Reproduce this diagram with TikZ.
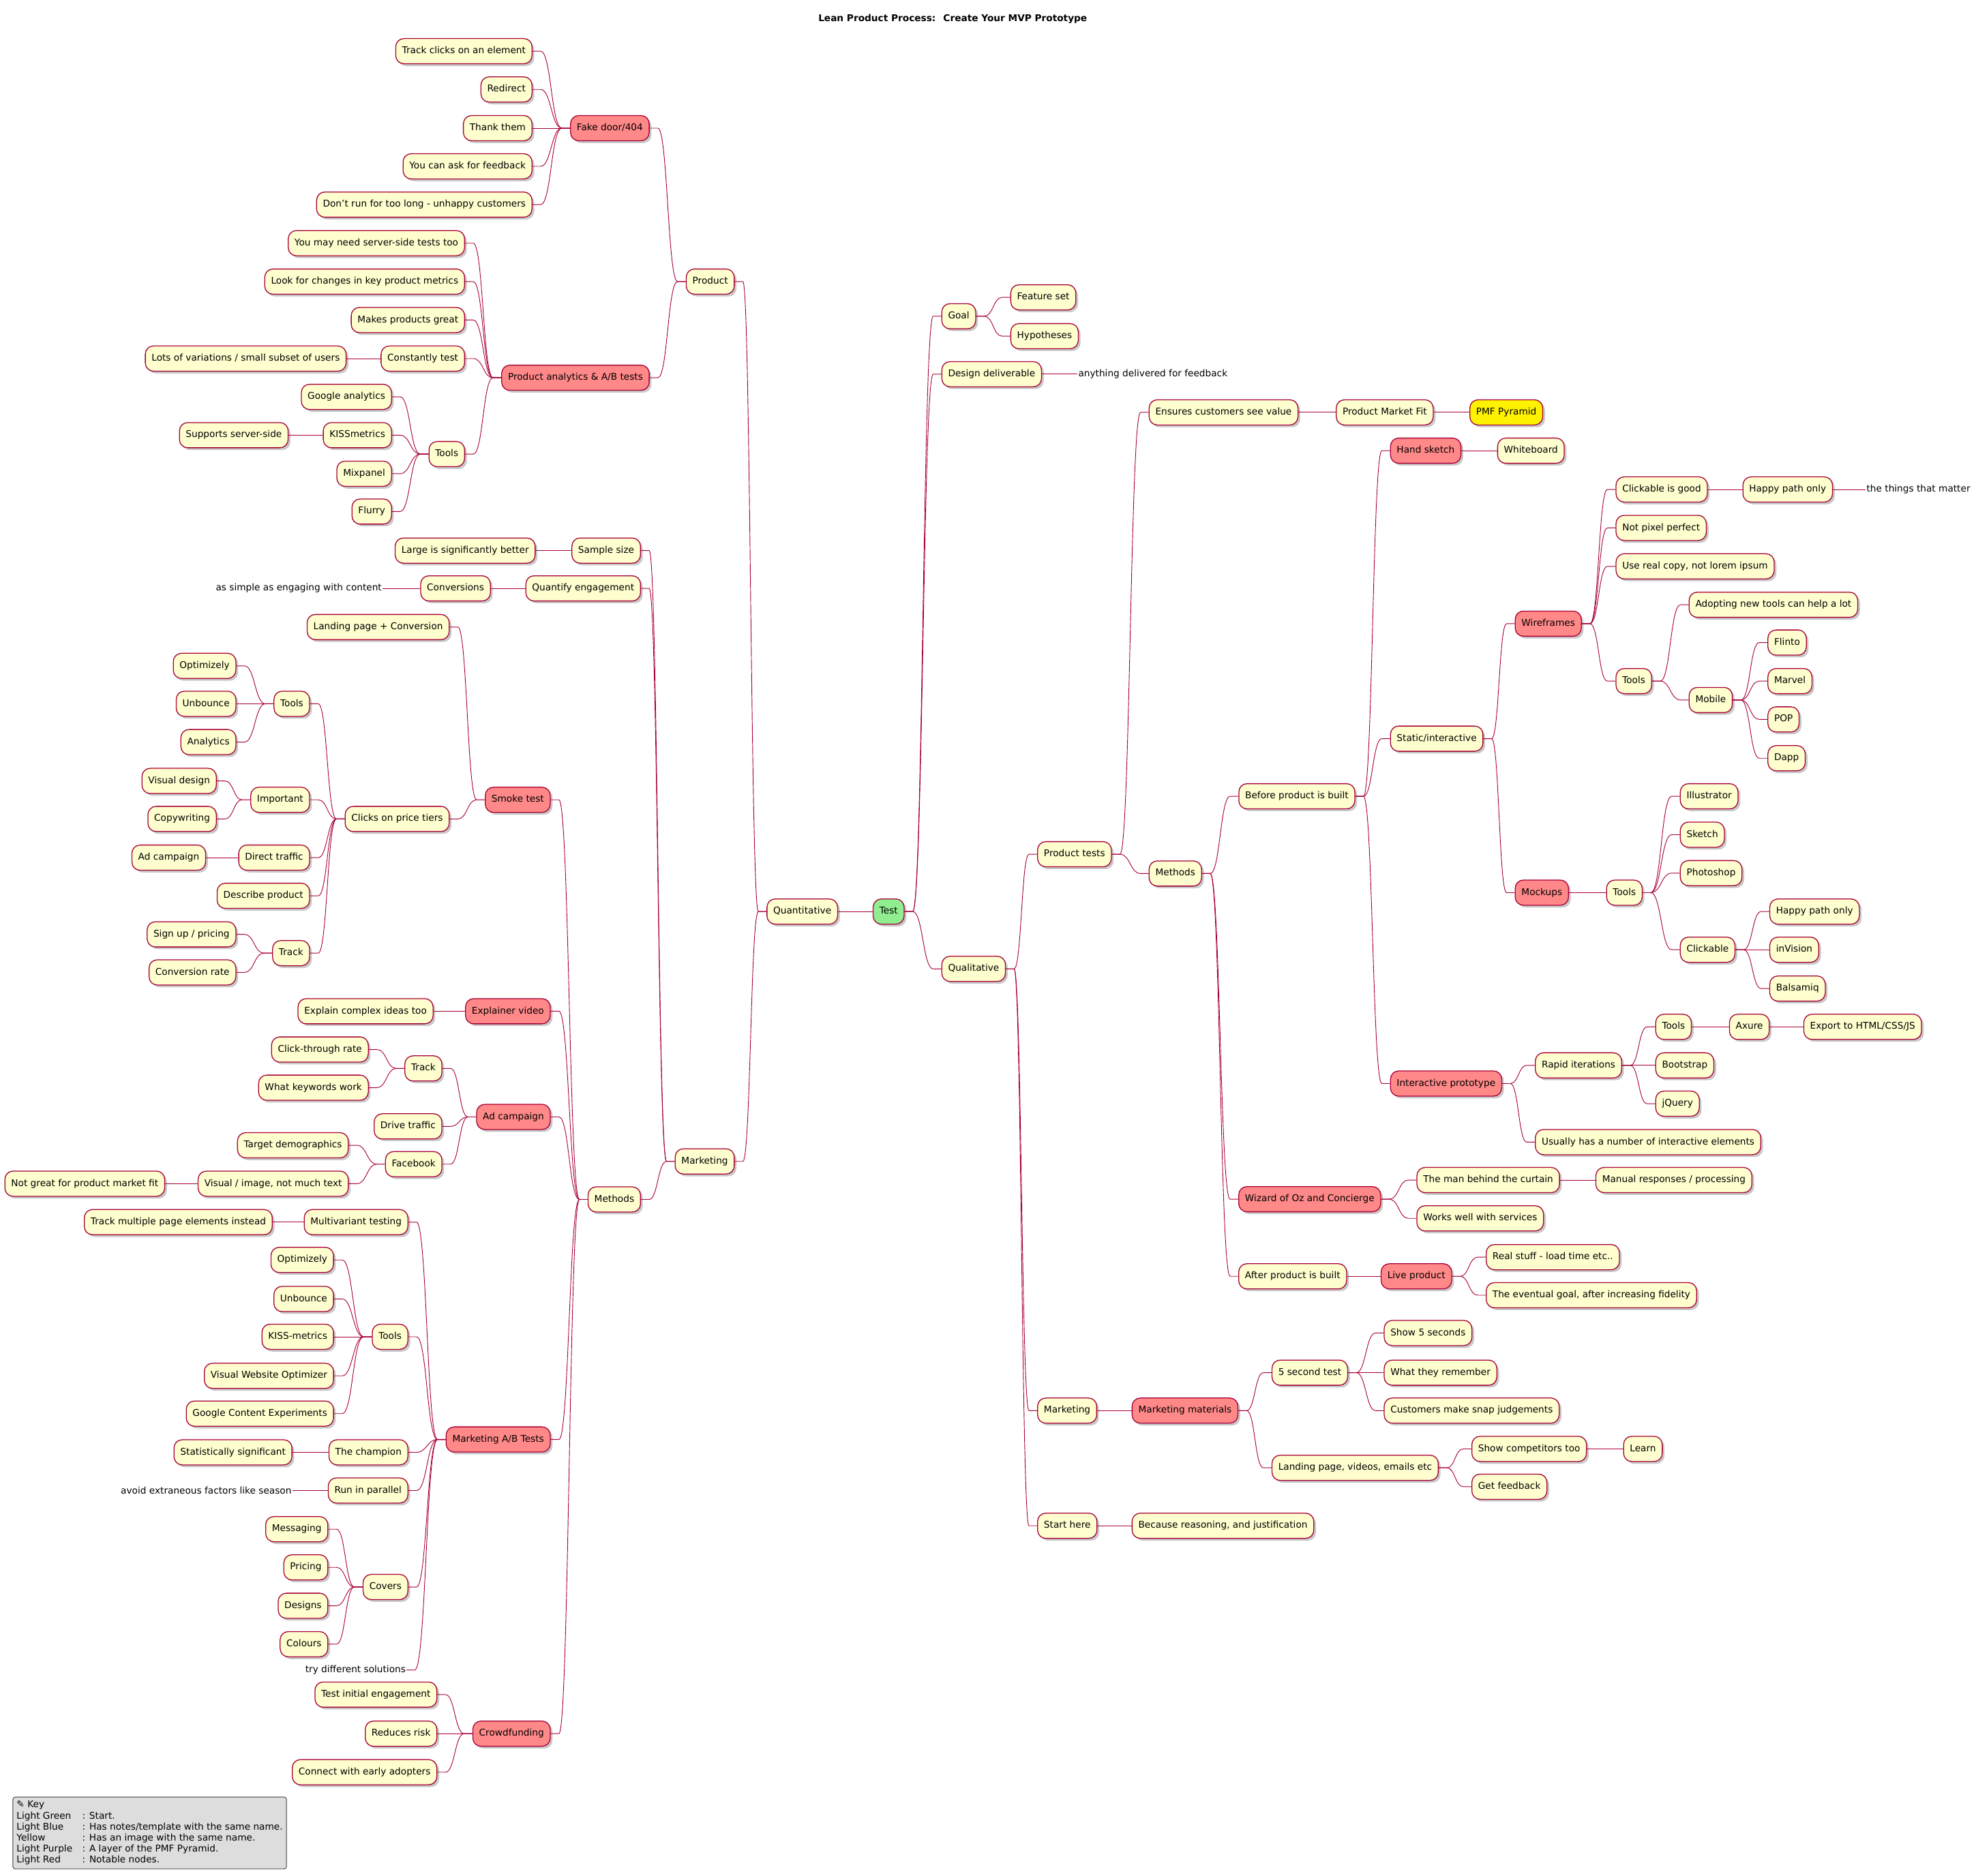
\documentclass[tikz,border=0pt]{standalone}
\usepackage{fontspec}
\setmainfont{DejaVu Sans}
\usetikzlibrary{calc,shadows}
\definecolor{edgered}{HTML}{A80036}
\definecolor{nodefill}{HTML}{FEFECE}
\definecolor{hotred}{HTML}{FF8888}
\definecolor{startgreen}{HTML}{90EE90}
\definecolor{keygrey}{HTML}{DDDDDD}

\begin{document}
\begin{tikzpicture}[x=1pt, y=-1pt, font=\fontsize{7.4}{8.7}\selectfont,
  box/.style={draw=edgered, line width=.7pt, fill=nodefill, rounded corners=6.5pt, minimum height=20pt, inner xsep=5pt, inner ysep=0pt, text height=5.5pt, text depth=1.6pt, drop shadow={shadow xshift=1.8pt, shadow yshift=-1.8pt, opacity=.3, fill=black!70}},
  right node/.style={box, anchor=west}, left node/.style={box, anchor=east},
  right hot/.style={right node, fill=hotred}, left hot/.style={left node, fill=hotred},
  right note/.style={anchor=west, inner xsep=.5pt}, left note/.style={anchor=east, inner xsep=.5pt},
  twig/.style={to path={-- ++(#1,0) .. controls ($(\tikztostart)!.5!(\tikztotarget |- \tikztostart)$) and ($(\tikztotarget)!.5!(\tikztostart |- \tikztotarget)$) .. ($(\tikztotarget)-(#1,0)$) -- (\tikztotarget) \tikztonodes}},
  every edge/.style={draw=edgered, line width=.5pt, twig=6.5pt}]

  \fill[white] (0,0) rectangle (1568,1489);
  \useasboundingbox (0,0) rectangle (1568,1489);

  \node[font=\fontsize{7.4}{8.7}\selectfont\bfseries] (title) at (756,15) {Lean Product Process:~ Create Your MVP Prototype};

  \node[right node, fill=startgreen] (test) at (692.5,723.5) {Test};

  % right half
  \node[right node] (goal) at (747,251) {Goal};
  \node[right node] (feat) at (801.7,236) {Feature set};
  \node[right node] (hyp) at (801.7,266.8) {Hypotheses};
  \node[right node] (deliv) at (747,297) {Design deliverable};
  \node[right note] (anything) at (855,297) {anything delivered for feedback};
  \node[right node] (qual) at (747,769) {Qualitative};
  \node[right node] (ptests) at (823,678) {Product tests};
  \node[right node] (value) at (911.5,327.3) {Ensures customers see value};
  \node[right node] (pmf) at (1060,327.3) {Product Market Fit};
  \node[right node, fill=yellow] (pyramid) at (1166,327.3) {PMF Pyramid};
  \node[right node] (pmeth) at (911.5,693.3) {Methods};
  \node[right node] (before) at (982.7,632) {Before product is built};
  \node[right hot] (hand) at (1103,357.7) {Hand sketch};
  \node[right node] (board) at (1188,357.7) {Whiteboard};
  \node[right node] (static) at (1103,586.3) {Static/interactive};
  \node[right hot] (wire) at (1202,495) {Wireframes};
  \node[right node] (clickgood) at (1282,388.5) {Clickable is good};
  \node[right node] (happy) at (1382.7,388.5) {Happy path only};
  \node[right note] (matter) at (1480.5,388.5) {the things that matter};
  \node[right node] (pixel) at (1282,419) {Not pixel perfect};
  \node[right node] (realcopy) at (1282,449.5) {Use real copy, not lorem ipsum};
  \node[right node] (wtools) at (1282,540.6) {Tools};
  \node[right node] (adopt) at (1340,480) {Adopting new tools can help a lot};
  \node[right node] (mobile) at (1340,555.6) {Mobile};
  \node[right node] (flinto) at (1402.5,510) {Flinto};
  \node[right node] (marvel) at (1402.5,540.6) {Marvel};
  \node[right node] (pop) at (1402.5,571) {POP};
  \node[right node] (dapp) at (1402.5,601.8) {Dapp};
  \node[right hot] (mock) at (1202,708.5) {Mockups};
  \node[right node] (mtools) at (1274.5,708.5) {Tools};
  \node[right node] (illus) at (1333,632) {Illustrator};
  \node[right node] (sketch) at (1333,662.5) {Sketch};
  \node[right node] (psd) at (1333,693) {Photoshop};
  \node[right node] (clickable) at (1333,753.8) {Clickable};
  \node[right node] (happy2) at (1404,723.5) {Happy path only};
  \node[right node] (invision) at (1404,753.8) {inVision};
  \node[right node] (balsamiq) at (1404,784.6) {Balsamiq};
  \node[right hot] (interact) at (1103,860) {Interactive prototype};
  \node[right node] (rapid) at (1218,845.6) {Rapid iterations};
  \node[right node] (itools) at (1313.5,815) {Tools};
  \node[right node] (axure) at (1372,815) {Axure};
  \node[right node] (export) at (1431,815) {Export to HTML/CSS/JS};
  \node[right node] (bootstrap) at (1313.5,845.6) {Bootstrap};
  \node[right node] (jquery) at (1313.5,876) {jQuery};
  \node[right node] (usually) at (1218,906.5) {Usually has a number of interactive elements};
  \node[right hot] (wizard) at (982.6,951.8) {Wizard of Oz and Concierge};
  \node[right node] (curtain) at (1124,936.6) {The man behind the curtain};
  \node[right node] (manual) at (1266,936.6) {Manual responses / processing};
  \node[right node] (services) at (1124,967) {Works well with services};
  \node[right node] (after) at (982.6,1013) {After product is built};
  \node[right hot] (live) at (1095.6,1013) {Live product};
  \node[right node] (realstuff) at (1179,997.8) {Real stuff - load time etc..};
  \node[right node] (eventual) at (1179,1028) {The eventual goal, after increasing fidelity};
  \node[right node] (qmkt) at (823,1119.6) {Marketing};
  \node[right hot] (materials) at (898,1119.6) {Marketing materials};
  \node[right node] (five) at (1009,1089.5) {5 second test};
  \node[right node] (show5) at (1098,1058) {Show 5 seconds};
  \node[right node] (remember) at (1098,1089.5) {What they remember};
  \node[right node] (snap) at (1098,1119.6) {Customers make snap judgements};
  \node[right node] (landing) at (1009,1165) {Landing page, videos, emails etc};
  \node[right node] (competitors) at (1167.6,1150) {Show competitors too};
  \node[right node] (learn) at (1288,1150) {Learn};
  \node[right node] (feedback) at (1167.6,1180) {Get feedback};
  \node[right node] (start) at (823,1211) {Start here};
  \node[right node] (reason) at (898,1211) {Because reasoning, and justification};

  % left half
  \node[left node] (quant) at (665,723.5) {Quantitative};
  \node[left node] (product) at (583,223.5) {Product};
  \node[left hot] (fake) at (515.5,101.7) {Fake door/404};
  \node[left node] (clicks) at (422.5,40.6) {Track clicks on an element};
  \node[left node] (redirect) at (422.5,71) {Redirect};
  \node[left node] (thank) at (422.5,101.7) {Thank them};
  \node[left node] (askfb) at (422.5,132) {You can ask for feedback};
  \node[left node] (dontrun) at (422.5,162.4) {Don't run for too long - unhappy customers};
  \node[left hot] (analytics) at (515.5,299.8) {Product analytics \& A/B tests};
  \node[left node] (server) at (369,193) {You may need server-side tests too};
  \node[left node] (metrics) at (369,223.5) {Look for changes in key product metrics};
  \node[left node] (great) at (369,254) {Makes products great};
  \node[left node] (constant) at (369,284.6) {Constantly test};
  \node[left node] (variations) at (275,284.6) {Lots of variations / small subset of users};
  \node[left node] (ptools) at (369,360.4) {Tools};
  \node[left node] (google) at (311,315) {Google analytics};
  \node[left node] (kiss) at (311,345.4) {KISSmetrics};
  \node[left node] (supports) at (229,345.4) {Supports server-side};
  \node[left node] (mixpanel) at (311,376) {Mixpanel};
  \node[left node] (flurry) at (311,406) {Flurry};
  \node[left node] (mkt) at (583,921.8) {Marketing};
  \node[left node] (sample) at (508.6,437) {Sample size};
  \node[left node] (large) at (425,437) {Large is significantly better};
  \node[left node] (quantify) at (508.6,467) {Quantify engagement};
  \node[left node] (conv) at (389.5,467) {Conversions};
  \node[left note] (simple) at (303.6,467) {as simple as engaging with content};
  \node[left node] (mmeth) at (508.6,952) {Methods};
  \node[left hot] (smoke) at (437,634.8) {Smoke test};
  \node[left node] (landconv) at (356.8,497.7) {Landing page + Conversion};
  \node[left node] (tiers) at (356.8,650) {Clicks on price tiers};
  \node[left node] (stools) at (246,558.6) {Tools};
  \node[left node] (opt1) at (187.5,528.5) {Optimizely};
  \node[left node] (unb1) at (187.5,558.6) {Unbounce};
  \node[left node] (anal) at (187.5,589) {Analytics};
  \node[left node] (important) at (246,634.8) {Important};
  \node[left node] (visual) at (172,619.8) {Visual design};
  \node[left node] (copy) at (172,650) {Copywriting};
  \node[left node] (direct) at (246,680.7) {Direct traffic};
  \node[left node] (adc1) at (163.5,680.7) {Ad campaign};
  \node[left node] (describe) at (246,711) {Describe product};
  \node[left node] (strack) at (246,756.5) {Track};
  \node[left node] (signup) at (187.5,741.6) {Sign up / pricing};
  \node[left node] (convrate) at (187.5,771.8) {Conversion rate};
  \node[left hot] (explainer) at (437,802.6) {Explainer video};
  \node[left node] (explain) at (344,802.6) {Explain complex ideas too};
  \node[left hot] (adcamp) at (437,886.5) {Ad campaign};
  \node[left node] (atrack) at (351,848) {Track};
  \node[left node] (ctr) at (292.6,833) {Click-through rate};
  \node[left node] (keywords) at (292.6,863.3) {What keywords work};
  \node[left node] (drive) at (351,894) {Drive traffic};
  \node[left node] (facebook) at (351,924) {Facebook};
  \node[left node] (target) at (276.7,909) {Target demographics};
  \node[left node] (visimg) at (276.7,939.5) {Visual / image, not much text};
  \node[left node] (notgreat) at (131,939.5) {Not great for product market fit};
  \node[left hot] (abtests) at (437,1142.5) {Marketing A/B Tests};
  \node[left node] (multi) at (324,970) {Multivariant testing};
  \node[left node] (multiple) at (216.4,970) {Track multiple page elements instead};
  \node[left node] (abtools) at (324,1061) {Tools};
  \node[left node] (opt2) at (265,1000) {Optimizely};
  \node[left node] (unb2) at (265,1031) {Unbounce};
  \node[left node] (kissm) at (265,1061) {KISS-metrics};
  \node[left node] (vwo) at (265,1092) {Visual Website Optimizer};
  \node[left node] (gce) at (265,1122) {Google Content Experiments};
  \node[left node] (champion) at (324,1152.7) {The champion};
  \node[left node] (signif) at (232,1152.7) {Statistically significant};
  \node[left node] (parallel) at (324,1183) {Run in parallel};
  \node[left note] (season) at (232,1183) {avoid extraneous factors like season};
  \node[left node] (covers) at (324,1259.6) {Covers};
  \node[left node] (messaging) at (260.5,1213.7) {Messaging};
  \node[left node] (pricing) at (260.5,1244) {Pricing};
  \node[left node] (designs) at (260.5,1274.5) {Designs};
  \node[left node] (colours) at (260.5,1305) {Colours};
  \node[left note] (solutions) at (322.6,1325.5) {try different solutions};
  \node[left hot] (crowd) at (437,1376) {Crowdfunding};
  \node[left node] (initial) at (347,1345) {Test initial engagement};
  \node[left node] (risk) at (347,1376) {Reduces risk};
  \node[left node] (adopters) at (347,1406.6) {Connect with early adopters};

  \node[draw=black!75, line width=.5pt, fill=keygrey, rounded corners=2pt, anchor=north west, inner xsep=3pt, inner ysep=2.5pt] (key) at (10,1426)
    {\begin{tabular}{@{}p{52pt}@{}l@{}}
      \multicolumn{2}{@{}l@{}}{✎ Key}\\
      Light Green & : Start.\\
      Light Blue & : Has notes/template with the same name.\\
      Yellow & : Has an image with the same name.\\
      Light Purple & : A layer of the PMF Pyramid.\\
      Light Red & : Notable nodes.
    \end{tabular}};

  \path (test.east) edge (goal.west) edge (deliv.west) edge (qual.west)
    (goal.east) edge (feat.west) edge (hyp.west)
    (deliv.east) edge (anything.west)
    (qual.east) edge (ptests.west) edge (qmkt.west) edge (start.west)
    (ptests.east) edge (value.west) edge (pmeth.west)
    (value.east) edge (pmf.west)
    (pmf.east) edge (pyramid.west)
    (pmeth.east) edge (before.west) edge (wizard.west) edge (after.west)
    (before.east) edge (hand.west) edge (static.west) edge (interact.west)
    (hand.east) edge (board.west)
    (static.east) edge (wire.west) edge (mock.west)
    (wire.east) edge (clickgood.west) edge (pixel.west) edge (realcopy.west) edge (wtools.west)
    (clickgood.east) edge (happy.west)
    (happy.east) edge (matter.west)
    (wtools.east) edge (adopt.west) edge (mobile.west)
    (mobile.east) edge (flinto.west) edge (marvel.west) edge (pop.west) edge (dapp.west)
    (mock.east) edge (mtools.west)
    (mtools.east) edge (illus.west) edge (sketch.west) edge (psd.west) edge (clickable.west)
    (clickable.east) edge (happy2.west) edge (invision.west) edge (balsamiq.west)
    (interact.east) edge (rapid.west) edge (usually.west)
    (rapid.east) edge (itools.west) edge (bootstrap.west) edge (jquery.west)
    (itools.east) edge (axure.west)
    (axure.east) edge (export.west)
    (wizard.east) edge (curtain.west) edge (services.west)
    (curtain.east) edge (manual.west)
    (after.east) edge (live.west)
    (live.east) edge (realstuff.west) edge (eventual.west)
    (qmkt.east) edge (materials.west)
    (materials.east) edge (five.west) edge (landing.west)
    (five.east) edge (show5.west) edge (remember.west) edge (snap.west)
    (landing.east) edge (competitors.west) edge (feedback.west)
    (competitors.east) edge (learn.west)
    (start.east) edge (reason.west);

  \begin{scope}[every edge/.append style={twig=-6.5pt}]
  \path (test.west) edge (quant.east)
    (quant.west) edge (product.east) edge (mkt.east)
    (product.west) edge (fake.east) edge (analytics.east)
    (fake.west) edge (clicks.east) edge (redirect.east) edge (thank.east) edge (askfb.east) edge (dontrun.east)
    (analytics.west) edge (server.east) edge (metrics.east) edge (great.east) edge (constant.east) edge (ptools.east)
    (constant.west) edge (variations.east)
    (ptools.west) edge (google.east) edge (kiss.east) edge (mixpanel.east) edge (flurry.east)
    (kiss.west) edge (supports.east)
    (mkt.west) edge (sample.east) edge (quantify.east) edge (mmeth.east)
    (sample.west) edge (large.east)
    (quantify.west) edge (conv.east)
    (conv.west) edge (simple.east)
    (mmeth.west) edge (smoke.east) edge (explainer.east) edge (adcamp.east) edge (abtests.east) edge (crowd.east)
    (smoke.west) edge (landconv.east) edge (tiers.east)
    (tiers.west) edge (stools.east) edge (important.east) edge (direct.east) edge (describe.east) edge (strack.east)
    (stools.west) edge (opt1.east) edge (unb1.east) edge (anal.east)
    (important.west) edge (visual.east) edge (copy.east)
    (direct.west) edge (adc1.east)
    (strack.west) edge (signup.east) edge (convrate.east)
    (explainer.west) edge (explain.east)
    (adcamp.west) edge (atrack.east) edge (drive.east) edge (facebook.east)
    (atrack.west) edge (ctr.east) edge (keywords.east)
    (facebook.west) edge (target.east) edge (visimg.east)
    (visimg.west) edge (notgreat.east)
    (abtests.west) edge (multi.east) edge (abtools.east) edge (champion.east) edge (parallel.east) edge (covers.east) edge (solutions.east)
    (multi.west) edge (multiple.east)
    (abtools.west) edge (opt2.east) edge (unb2.east) edge (kissm.east) edge (vwo.east) edge (gce.east)
    (champion.west) edge (signif.east)
    (parallel.west) edge (season.east)
    (covers.west) edge (messaging.east) edge (pricing.east) edge (designs.east) edge (colours.east)
    (crowd.west) edge (initial.east) edge (risk.east) edge (adopters.east);
  \end{scope}
\end{tikzpicture}
\end{document}
